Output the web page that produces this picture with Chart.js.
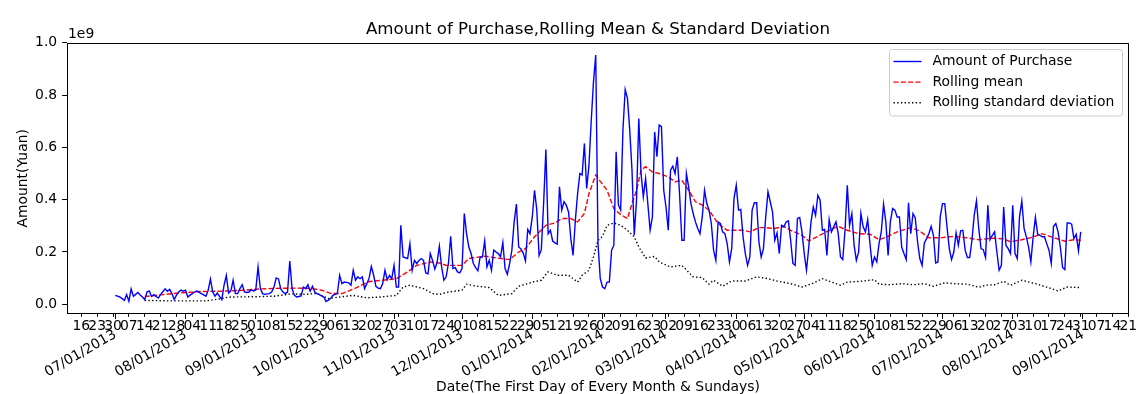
<!DOCTYPE html>
<html>
<head>
<meta charset="utf-8">
<script src="https://cdn.jsdelivr.net/npm/chart.js@4.4.0/dist/chart.umd.min.js"></script>
<style>
  html, body { margin: 0; padding: 0; background: #fff; }
  canvas { display: block; }
</style>
</head>
<body>
<canvas id="chart" width="1145" height="394"></canvas>
<script>
// daily amount of purchase from 07/01/2013, in units of 1e9 yuan
const purchase = [
  0.034,0.031,0.028,0.022,0.015,0.037,0.012,0.059,0.031,0.038,
  0.045,0.036,0.028,0.018,0.047,0.051,0.030,0.037,0.030,0.024,
  0.038,0.048,0.059,0.050,0.057,0.041,0.018,0.035,0.047,0.054,
  0.050,0.054,0.028,0.035,0.041,0.047,0.051,0.046,0.041,0.036,
  0.031,0.054,0.097,0.047,0.031,0.043,0.030,0.018,0.073,0.110,
  0.043,0.051,0.092,0.041,0.041,0.060,0.075,0.047,0.045,0.047,
  0.056,0.051,0.055,0.143,0.060,0.041,0.038,0.040,0.041,0.047,
  0.065,0.101,0.097,0.060,0.047,0.041,0.047,0.165,0.060,0.035,
  0.028,0.030,0.032,0.066,0.060,0.075,0.050,0.069,0.047,0.041,
  0.037,0.032,0.028,0.011,0.016,0.022,0.034,0.038,0.041,0.111,
  0.079,0.085,0.084,0.082,0.073,0.130,0.092,0.105,0.098,0.105,
  0.060,0.079,0.100,0.145,0.111,0.069,0.062,0.060,0.079,0.130,
  0.094,0.111,0.098,0.149,0.066,0.066,0.302,0.181,0.178,0.175,
  0.232,0.130,0.168,0.156,0.168,0.175,0.168,0.120,0.117,0.194,
  0.168,0.135,0.160,0.222,0.143,0.092,0.105,0.156,0.260,0.137,
  0.140,0.124,0.120,0.137,0.347,0.270,0.219,0.194,0.156,0.140,
  0.128,0.181,0.181,0.242,0.143,0.168,0.130,0.207,0.200,0.194,
  0.181,0.236,0.137,0.115,0.156,0.207,0.315,0.383,0.219,0.212,
  0.196,0.166,0.286,0.270,0.334,0.436,0.360,0.187,0.209,0.385,
  0.592,0.270,0.283,0.242,0.235,0.230,0.449,0.360,0.392,0.379,
  0.353,0.251,0.187,0.321,0.423,0.500,0.494,0.615,0.443,0.530,
  0.700,0.850,0.953,0.232,0.098,0.066,0.060,0.085,0.085,0.207,
  0.226,0.583,0.380,0.360,0.666,0.821,0.787,0.666,0.513,0.264,
  0.400,0.710,0.500,0.411,0.481,0.383,0.283,0.334,0.659,0.564,
  0.685,0.679,0.436,0.372,0.283,0.513,0.528,0.500,0.564,0.420,
  0.245,0.245,0.500,0.449,0.385,0.347,0.315,0.290,0.270,0.334,
  0.436,0.385,0.360,0.309,0.207,0.168,0.315,0.309,0.277,0.270,
  0.232,0.162,0.213,0.404,0.455,0.360,0.363,0.258,0.194,0.149,
  0.181,0.360,0.388,0.388,0.239,0.181,0.213,0.334,0.430,0.392,
  0.353,0.245,0.273,0.194,0.302,0.296,0.315,0.319,0.245,0.156,
  0.149,0.328,0.332,0.277,0.194,0.130,0.219,0.315,0.372,0.340,
  0.417,0.398,0.283,0.286,0.187,0.324,0.277,0.296,0.315,0.270,
  0.181,0.171,0.283,0.455,0.302,0.347,0.226,0.168,0.200,0.347,
  0.296,0.277,0.324,0.232,0.149,0.181,0.162,0.232,0.277,0.383,
  0.315,0.187,0.315,0.366,0.360,0.334,0.334,0.219,0.194,0.171,
  0.388,0.270,0.347,0.330,0.239,0.175,0.149,0.235,0.251,0.270,
  0.298,0.264,0.158,0.162,0.334,0.385,0.385,0.296,0.213,0.171,
  0.200,0.273,0.226,0.281,0.283,0.207,0.179,0.179,0.245,0.340,
  0.395,0.290,0.213,0.209,0.179,0.379,0.247,0.264,0.277,0.200,
  0.130,0.149,0.372,0.226,0.213,0.194,0.379,0.194,0.175,0.334,
  0.395,0.290,0.258,0.219,0.162,0.258,0.332,0.268,0.264,0.258,
  0.258,0.232,0.207,0.156,0.298,0.309,0.277,0.219,0.140,0.133,
  0.311,0.311,0.306,0.251,0.268,0.204,0.277
];

const meanDays = [13,20,28,37,46,55,64,71,80,87,91,95,100,105,112,118,124,129,133,139,
  143,146,153,156,163,170,174,178,181,185,190,194,197,201,204,207,209,212,214,217,
  220,223,226,228,230,232,234,237,240,244,247,250,253,256,259,262,265,267,270,277,
  280,284,287,291,295,298,303,306,310,315,319,323,328,333,337,341,345,351,355,359,
  365,370,375,381,387,392,395,400,404,409,413,419,423,426];
const meanValues = [0.030,0.036,0.043,0.049,0.050,0.053,0.059,0.061,0.062,0.060,0.054,0.042,0.041,0.058,0.087,0.092,0.098,0.124,0.149,0.162,
  0.158,0.149,0.149,0.175,0.184,0.175,0.171,0.200,0.213,0.258,0.302,0.311,0.328,0.328,0.315,0.347,0.423,0.494,0.470,0.436,
  0.366,0.343,0.328,0.385,0.436,0.513,0.526,0.506,0.500,0.487,0.468,0.474,0.436,0.392,0.379,0.360,0.321,0.302,0.283,0.283,
  0.277,0.293,0.293,0.290,0.298,0.283,0.264,0.242,0.260,0.283,0.298,0.283,0.270,0.268,0.247,0.260,0.277,0.293,0.280,0.254,
  0.255,0.260,0.255,0.247,0.253,0.250,0.239,0.247,0.255,0.270,0.258,0.241,0.247,0.245];

const stdDays = [13,24,40,47,50,62,70,78,84,89,94,100,105,111,117,124,127,130,136,140,
  143,147,153,155,159,165,169,175,178,184,188,191,195,200,204,206,209,211,213,215,
  217,220,223,226,229,231,234,238,240,245,250,255,259,262,264,268,272,278,283,288,
  292,298,303,308,312,316,320,323,329,335,337,342,347,352,357,361,366,370,376,381,
  384,388,392,395,400,406,411,416,420,426];
const stdValues = [0.015,0.013,0.013,0.022,0.028,0.029,0.031,0.040,0.038,0.042,0.022,0.029,0.034,0.025,0.028,0.034,0.066,0.073,0.060,0.041,
  0.038,0.047,0.054,0.077,0.070,0.064,0.034,0.041,0.069,0.085,0.092,0.124,0.111,0.111,0.085,0.111,0.130,0.181,0.245,0.260,
  0.302,0.311,0.302,0.283,0.258,0.219,0.177,0.183,0.162,0.143,0.149,0.105,0.102,0.077,0.092,0.069,0.089,0.089,0.105,0.098,
  0.089,0.079,0.066,0.081,0.098,0.085,0.073,0.085,0.088,0.094,0.077,0.075,0.079,0.075,0.079,0.069,0.082,0.079,0.077,0.065,
  0.073,0.075,0.088,0.073,0.092,0.079,0.066,0.051,0.066,0.064];

const monthLabels = ['07/01/2013','08/01/2013','09/01/2013','10/01/2013','11/01/2013','12/01/2013','01/01/2014',
  '02/01/2014','03/01/2014','04/01/2014','05/01/2014','06/01/2014','07/01/2014','08/01/2014','09/01/2014'];
const yTicks = [0.0, 0.2, 0.4, 0.6, 0.8, 1.0];

const DAY = 86400000;
const t0 = Date.UTC(2013, 6, 1);
const dayOf = s => { const [m, d, y] = s.split('/').map(Number); return (Date.UTC(y, m - 1, d) - t0) / DAY; };
const monthDays = monthLabels.map(dayOf);

const last = purchase.length - 1;
const xMin = -0.05 * last, xMax = last * 1.05;

// weekly Sunday ticks (06/16/2013 is a Sunday)
const sundays = [];
for (let d = dayOf('06/16/2013'); d <= xMax; d += 7) sundays.push(d);
const dayNum = d => String(new Date(t0 + d * DAY).getUTCDate()).padStart(2, '0');

Chart.defaults.font.family = 'DejaVu Sans';
Chart.defaults.font.size = 13.9;
Chart.defaults.color = '#000';

const FONT = 'DejaVu Sans';

const decor = {
  id: 'decor',
  afterLayout(chart) {
    // let the Sunday axis (fitted with zero height) draw its labels over the month axis area
    const s = chart.scales.x;
    s.bottom = chart.height;
    s.height = s.bottom - s.top;
    s._labelItems = null;
    s._gridLineItems = null;
  },
  afterDraw(chart) {
    const { ctx, chartArea: a } = chart;
    ctx.save();
    // frame
    ctx.strokeStyle = '#000';
    ctx.lineWidth = 1;
    ctx.strokeRect(Math.round(a.left) + 0.5, Math.round(a.top) + 0.5,
      Math.round(a.right) - Math.round(a.left) - 1, Math.round(a.bottom) - Math.round(a.top) - 1);
    // title
    ctx.fillStyle = '#000';
    ctx.font = '16.67px "' + FONT + '"';
    ctx.textAlign = 'center';
    ctx.textBaseline = 'alphabetic';
    ctx.fillText('Amount of Purchase,Rolling Mean & Standard Deviation', (a.left + a.right) / 2, a.top - 8.3);
    // offset text
    ctx.font = '13.9px "' + FONT + '"';
    ctx.textAlign = 'left';
    ctx.fillText('1e9', a.left + 1, a.top - 4.6);
    // legend
    const bx = 889.5, by = 49.5, bw = 233, bh = 66.5;
    ctx.beginPath();
    ctx.roundRect(bx, by, bw, bh, 3);
    ctx.fillStyle = 'rgba(255,255,255,0.8)';
    ctx.fill();
    ctx.strokeStyle = '#cccccc';
    ctx.stroke();
    chart.data.datasets.forEach((ds, i) => {
      const y = 61.5 + i * 20.6;
      ctx.beginPath();
      ctx.setLineDash(ds.borderDash || []);
      ctx.strokeStyle = ds.borderColor;
      ctx.lineWidth = ds.borderWidth;
      ctx.moveTo(893.5, y);
      ctx.lineTo(921.5, y);
      ctx.stroke();
      ctx.setLineDash([]);
      ctx.fillStyle = '#000';
      ctx.textBaseline = 'middle';
      ctx.fillText(ds.label, 932.5, y);
    });
    ctx.restore();
  }
};

new Chart(document.getElementById('chart'), {
  type: 'line',
  data: {
    datasets: [{
      label: 'Amount of Purchase',
      data: purchase.map((v, i) => ({ x: i, y: v })),
      borderColor: '#0000ff',
      borderWidth: 1.4
    }, {
      label: 'Rolling mean',
      data: meanDays.map((d, i) => ({ x: d, y: meanValues[i] })),
      borderColor: '#ff0000',
      borderWidth: 1.4,
      borderDash: [5.1, 2.2]
    }, {
      label: 'Rolling standard deviation',
      data: stdDays.map((d, i) => ({ x: d, y: stdValues[i] })),
      borderColor: '#000000',
      borderWidth: 1.4,
      borderDash: [1.4, 2.3]
    }]
  },
  options: {
    responsive: false,
    animation: false,
    devicePixelRatio: 1,
    layout: { padding: { left: 0, right: 16, top: 42.7, bottom: 0 } },
    elements: { point: { radius: 0 }, line: { tension: 0 } },
    plugins: { legend: { display: false }, title: { display: false }, tooltip: { enabled: false } },
    scales: {
      x: {
        type: 'linear', position: 'bottom', weight: 0,
        min: xMin, max: xMax,
        afterBuildTicks: s => { s.ticks = sundays.map(v => ({ value: v })); },
        afterFit: s => { s.height = 0; },
        ticks: { autoSkip: false, maxRotation: 0, minRotation: 0, padding: 1.5, callback: v => dayNum(v) },
        grid: { drawOnChartArea: false, drawTicks: true, tickLength: 2.8, tickColor: '#000' },
        border: { display: false }
      },
      x2: {
        type: 'linear', position: 'bottom', weight: 1,
        min: xMin, max: xMax,
        afterBuildTicks: s => { s.ticks = monthDays.map(v => ({ value: v })); },
        afterFit: s => { s.height = 80; },
        ticks: { autoSkip: false, maxRotation: 30, minRotation: 30, padding: 7.5,
          callback: v => monthLabels[monthDays.indexOf(v)] },
        grid: { drawOnChartArea: false, drawTicks: true, tickLength: 4.9, tickColor: '#000' },
        border: { display: false },
        title: { display: true, text: 'Date(The First Day of Every Month & Sundays)',
          font: { lineHeight: 1.0 }, padding: { top: 0, bottom: 0 } }
      },
      y: {
        type: 'linear', position: 'left',
        min: -0.037, max: 1.0,
        afterBuildTicks: s => { s.ticks = yTicks.map(v => ({ value: v })); },
        afterFit: s => { s.width = 67; },
        ticks: { padding: 4.9, callback: v => v.toFixed(1) },
        grid: { drawOnChartArea: false, drawTicks: true, tickLength: 4.9, tickColor: '#000' },
        border: { display: false },
        title: { display: true, text: 'Amount(Yuan)', padding: { top: 14.7, bottom: 0 } }
      }
    }
  },
  plugins: [decor]
});
</script>
</body>
</html>
